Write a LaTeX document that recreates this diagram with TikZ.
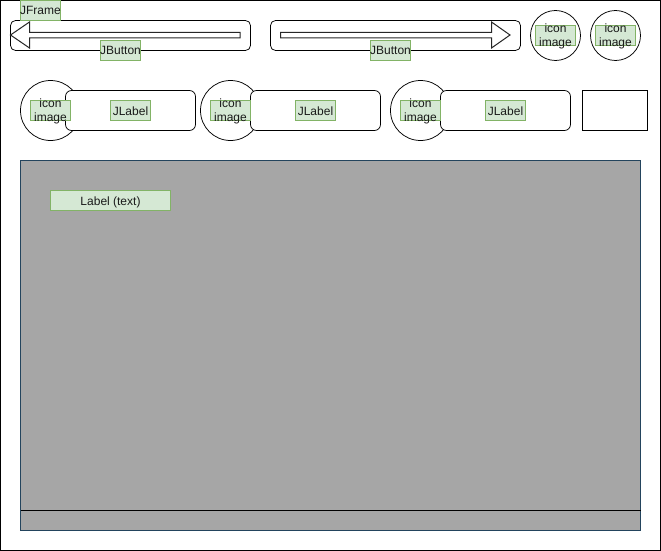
\documentclass[tikz,border=0pt]{standalone}
\usepackage{fontspec}
\setmainfont{Liberation Sans}
\definecolor{gfill}{HTML}{D5E8D4}
\definecolor{gline}{HTML}{82B366}
\definecolor{panel}{HTML}{A6A6A6}
\definecolor{panelline}{HTML}{23445D}
\definecolor{txt}{HTML}{1A1A1A}
\newcommand{\fit}[1]{\raisebox{-4.5pt}[0pt][0pt]{\makebox[0pt][c]{#1}}}
\tikzset{
  every node/.style={inner sep=0pt,outer sep=0pt,text=txt,font=\fontsize{12}{14}\selectfont},
  tag/.style={draw=gline,fill=gfill,line width=0.8pt,minimum width=40pt,minimum height=20pt,align=center},
  wide/.style={tag,minimum width=120pt},
  btn/.style={draw=black,fill=white,line width=0.75pt,rounded corners=5pt},
  lab/.style={draw=black,fill=white,line width=0.75pt,rounded corners=6pt},
  icon/.style={draw=black,fill=white,line width=0.75pt,circle},
  arr/.style={draw=black!85,fill=white,line width=1pt,line join=miter},
}
\begin{document}
\begin{tikzpicture}[x=1pt,y=-1pt]
\useasboundingbox (0,0) rectangle (661,551);
\node[draw=black,fill=white,line width=1pt,minimum width=660pt,minimum height=550pt,anchor=north west] (frame) at (0.5,0.5) {};
% top row
\node[btn,minimum width=240pt,minimum height=30pt,anchor=north west] (btnL) at (10.5,20.5) {};
\node[btn,minimum width=250pt,minimum height=30pt,anchor=north west] (btnR) at (270.5,20.5) {};
\draw[arr] (10.5,35) -- (29.5,22) -- (29.5,32.5) -- (240,32.5) -- (240,38) -- (29.5,38) -- (29.5,48) -- cycle;
\draw[arr] (510,35) -- (491.5,22) -- (491.5,32.5) -- (280.5,32.5) -- (280.5,38) -- (491.5,38) -- (491.5,48) -- cycle;
\node[icon,minimum size=50pt] (c1) at (555.5,35.5) {};
\node[icon,minimum size=50pt] (c2) at (615.5,35.5) {};
\node[tag,anchor=north west] (jframe) at (20.5,0.5) {\fit{JFrame}};
\node[tag,anchor=north west] (jb1) at (100.5,40.5) {\fit{JButton}};
\node[tag,anchor=north west] (jb2) at (370.5,40.5) {\fit{JButton}};
\node[tag,anchor=north west] (i1) at (535.5,25.5) {};
\node[tag,anchor=north west] (i2) at (595.5,25.5) {};
\node[align=center] (t1) at (555.5,36) {icon\\image};
\node[align=center] (t2) at (615.5,36) {icon\\image};
% second row
\node[icon,minimum size=60pt] (d1) at (50.5,110.5) {};
\node[icon,minimum size=60pt] (d2) at (230.5,110.5) {};
\node[icon,minimum size=60pt] (d3) at (420.5,110.5) {};
\node[lab,minimum width=130pt,minimum height=40pt,anchor=north west] (r1) at (65.5,90.5) {};
\node[lab,minimum width=130pt,minimum height=40pt,anchor=north west] (r2) at (250.5,90.5) {};
\node[lab,minimum width=130pt,minimum height=40pt,anchor=north west] (r3) at (440.5,90.5) {};
\node[draw=black,fill=white,line width=0.75pt,minimum width=65pt,minimum height=40pt,anchor=north west] (blank) at (582.6,90.5) {};
\node[tag,anchor=north west] (b1) at (30.5,100.5) {};
\node[tag,anchor=north west] (b2) at (210.5,100.5) {};
\node[tag,anchor=north west] (b3) at (400.5,100.5) {};
\node[align=center] (u1) at (50.5,111) {icon\\image};
\node[align=center] (u2) at (230.5,111) {icon\\image};
\node[align=center] (u3) at (420.5,111) {icon\\image};
\node[tag,anchor=north west] (l1) at (110.5,100.5) {\fit{JLabel}};
\node[tag,anchor=north west] (l2) at (295.5,100.5) {\fit{JLabel}};
\node[tag,anchor=north west] (l3) at (485.5,100.5) {\fit{JLabel}};
% panel
\node[draw=panelline,fill=panel,line width=0.75pt,minimum width=620pt,minimum height=370pt,anchor=north west] (panel) at (20.5,160.5) {};
\coordinate (sL) at (20.5,510.5);
\coordinate (sR) at (640.5,510.5);
\draw[black,line width=0.75pt] (sL) -- (sR);
\node[wide,anchor=north west] (ltext) at (50.5,190.5) {\fit{Label (text)}};
\end{tikzpicture}
\end{document}
